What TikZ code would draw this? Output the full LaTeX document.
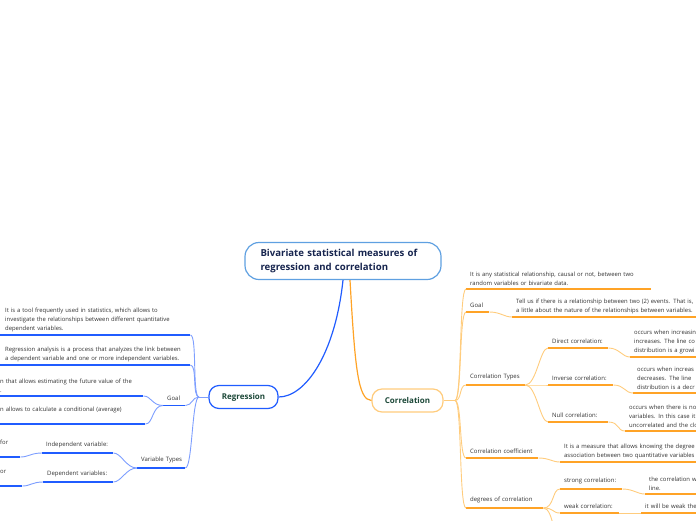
\documentclass[tikz,border=0pt]{standalone}
\usepackage{fontspec}
\setmainfont{Open Sans}
\definecolor{navy}{RGB}{22,36,78}
\definecolor{deepgreen}{RGB}{28,72,56}
\definecolor{txt}{RGB}{50,50,50}
\definecolor{rootc}{RGB}{95,160,225}
\definecolor{blueD}{RGB}{32,92,255}
\definecolor{blueL}{RGB}{125,158,255}
\definecolor{orangeD}{RGB}{255,163,38}
\definecolor{orangeL}{RGB}{255,204,125}

\begin{document}
\begin{tikzpicture}[x=1pt,y=-1pt,
  every node/.style={text=txt,font=\fontsize{5.9}{8.9}\selectfont},
  root/.style={draw=rootc,line width=1.2pt,rounded corners=14pt,fill=white,
     minimum width=196pt,minimum height=37pt,align=left,text width=165pt,
     text=navy,font=\bfseries\fontsize{9.6}{14}\selectfont},
  topic/.style={line width=1.2pt,rounded corners=10pt,fill=white,
     minimum height=23pt,text=deepgreen,font=\bfseries\fontsize{8}{9}\selectfont},
  leaf/.style={anchor=south west,align=left,inner xsep=4pt,inner ysep=3pt},
  lab/.style={leaf,inner ysep=4.5pt,font=\fontsize{6}{8.9}\selectfont},
  ulB/.style={draw=blueD,line width=1.5pt},
  ulO/.style={draw=orangeD,line width=1.5pt},
  cnB/.style={draw=blueL,line width=0.9pt},
  cnO/.style={draw=orangeL,line width=0.9pt},
  brR/.style={out=0,in=180,out distance=11pt,in distance=8pt},
  brL/.style={out=180,in=0,out distance=11pt,in distance=8pt}]
  \useasboundingbox (0,0) rectangle (696,520);
  \clip (0,0) rectangle (696,520);

  \node[root] (root) at (343,261) {Bivariate statistical measures of\\regression and correlation};
  \node[topic,draw=blueD,minimum width=69pt] (reg) at (243.5,397) {Regression};
  \node[topic,draw=orangeL,minimum width=71pt] (cor) at (407.5,400.5) {Correlation};

  \draw[draw=blueD,line width=1.2pt] (root.south) .. controls (335,355) and (305,397) .. (reg.east);
  \draw[draw=orangeD,line width=1.2pt] ([xshift=7pt]root.south) .. controls (355,368) and (358,400) .. (cor.west);

  % correlation side
  \node[leaf,text width=177pt] (cdef) at (466,289) {It is any statistical relationship, causal or not, between two\\random variables or bivariate data.};
  \node[lab,text width=15pt] (cgoal) at (466,312) {Goal};
  \node[leaf,text width=200pt] (cgoalt) at (512,317) {Tell us if there is a relationship between two (2) events. That is,\\a little about the nature of the relationships between variables.};
  \node[lab,text width=51pt] (ctypes) at (466,385) {Correlation~Types};
  \node[lab,text width=52pt] (cdir) at (548,348) {Direct~correlation:};
  \node[leaf,text width=120pt] (cdirt) at (630,357) {occurs when increasin\\increases. The line co\\distribution is a growi};
  \node[lab,text width=57pt] (cinv) at (548,385) {Inverse~correlation:};
  \node[leaf,text width=120pt] (cinvt) at (633,393) {occurs when increas\\decreases. The line\\distribution is a decr};
  \node[lab,text width=52pt] (cnull) at (548,422) {Null~correlation:};
  \node[leaf,text width=120pt] (cnullt) at (625,431) {occurs when there is no\\variables. In this case it\\uncorrelated and the clo};
  \node[lab,text width=64pt] (ccoef) at (466,458) {Correlation~coefficient};
  \node[leaf,text width=160pt] (ccoeft) at (560,462) {It is a measure that allows knowing the degree o\\association between two quantitative variables};
  \node[lab,text width=69pt] (cdeg) at (466,508) {degrees~of~correlation};
  \node[lab,text width=54pt] (cstr) at (560,489) {strong~correlation:};
  \node[leaf,text width=100pt] (cstrt) at (645,494) {the correlation w\\line.};
  \node[lab,text width=51pt] (cweak) at (560,513) {weak~correlation:};
  \node[lab,text width=100pt] (cweakt) at (641,513) {it will be weak the};
  \coordinate (cmore) at (562,548);

  \foreach \n in {cdef,cgoal,cgoalt,ctypes,cdir,cdirt,cinv,cinvt,cnull,cnullt,ccoef,ccoeft,cdeg,cstr,cstrt,cweak,cweakt}
    \draw[ulO] (\n.south west) -- (\n.south east);

  \coordinate (cf) at (455,400.5);
  \draw[cnO] (cor.east) -- (cf);
  \foreach \n in {cdef,cgoal,ctypes,ccoef,cdeg}
    \draw[cnO] (cf) to[out=0,in=180,distance=7pt] (\n.south west);
  \draw[cnO] (cgoal.south east) to[brR] (cgoalt.south west);
  \foreach \n in {cdir,cinv,cnull}
    \draw[cnO] (ctypes.south east) to[brR] (\n.south west);
  \draw[cnO] (cdir.south east) to[brR] (cdirt.south west);
  \draw[cnO] (cinv.south east) to[brR] (cinvt.south west);
  \draw[cnO] (cnull.south east) to[brR] (cnullt.south west);
  \draw[cnO] (ccoef.south east) to[brR] (ccoeft.south west);
  \foreach \n in {cstr,cweak}
    \draw[cnO] (cdeg.south east) to[brR] (\n.south west);
  \draw[cnO] (cdeg.south east) to[brR] (cmore);
  \draw[cnO] (cstr.south east) to[brR] (cstrt.south west);
  \draw[cnO] (cweak.south east) -- (cweakt.south west);

  % regression side
  \node[leaf,inner xsep=5pt,text width=180pt] (rdef) at (0,335) {It is a tool frequently used in statistics, which allows to\\investigate the relationships between different quantitative\\dependent variables.};
  \node[leaf,inner xsep=5pt,text width=180pt] (rana) at (0,365) {Regression analysis is a process that analyzes the link between\\a dependent variable and one or more independent variables.};
  \node[lab,text width=14pt] (rgoal) at (163,405.5) {Goal};
  \node[leaf,text width=139pt] (rg1) at (-4,396) {n that allows estimating the future value of the\\.};
  \node[leaf,text width=141pt] (rg2) at (-4,424) {n allows to calculate a conditional (average)\\ \mbox{}};
  \node[lab,text width=40pt] (rtypes) at (137,468) {Variable~Types};
  \node[lab,text width=63pt] (rind) at (42,453) {Independent~variable:};
  \node[lab,text width=62pt] (rdep) at (43,482) {Dependent~variables:};
  \node[leaf,text width=16pt] (rfor) at (-4,457) {for\\ \mbox{}};
  \node[leaf,text width=18pt] (ror) at (-4,486) {or\\ \mbox{}};

  \foreach \n in {rdef,rana,rgoal,rg1,rg2,rtypes,rind,rdep,rfor,ror}
    \draw[ulB] (\n.south west) -- (\n.south east);

  \coordinate (rf) at (199,397);
  \draw[cnB] (reg.west) -- (rf);
  \foreach \n in {rdef,rana,rgoal,rtypes}
    \draw[cnB] (rf) to[out=180,in=0,distance=7pt] (\n.south east);
  \foreach \n in {rg1,rg2}
    \draw[cnB] (rgoal.south west) to[brL] (\n.south east);
  \foreach \n in {rind,rdep}
    \draw[cnB] (rtypes.south west) to[brL] (\n.south east);
  \draw[cnB] (rind.south west) to[brL] (rfor.south east);
  \draw[cnB] (rdep.south west) to[brL] (ror.south east);
\end{tikzpicture}
\end{document}
